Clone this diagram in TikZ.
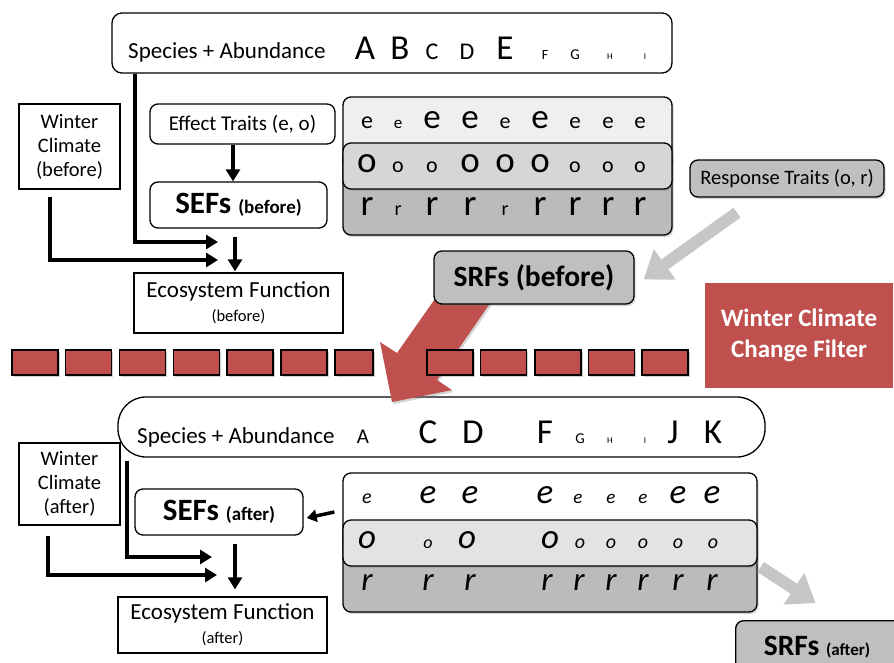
\documentclass[tikz,border=0pt]{standalone}
\usepackage{fontspec}
\setmainfont{Carlito}
\usetikzlibrary{arrows.meta,shadows}
\definecolor{filterred}{HTML}{C0504D}
\definecolor{cE}{HTML}{EFEFEF}
\definecolor{cO}{HTML}{D5D7D7}
\definecolor{cR}{HTML}{BBBBBB}
\definecolor{cOb}{HTML}{E2E4E4}
\definecolor{grayarrow}{HTML}{C6C6C6}
\definecolor{respbox}{HTML}{BFBFBF}
\newcommand{\fs}[2]{\fontsize{#1}{#2}\selectfont}
\begin{document}
\begin{tikzpicture}[x=1pt,y=-1pt,
  sqbox/.style={draw, line width=1.3pt, fill=white, inner sep=0pt, align=center},
  rdbox/.style={sqbox, rounded corners=8pt},
  shad/.style={drop shadow={shadow xshift=1.5pt, shadow yshift=-2pt, opacity=0.35}},
  lett/.style={anchor=base, inner sep=0pt},
  conn/.style={line width=4.2pt, -{Triangle[length=12pt,width=14pt]}},
  fat/.style={line width=12pt, grayarrow, -{Triangle[length=26pt,width=36pt]}},
  dashbox/.style={draw, line width=1.3pt, fill=filterred, minimum height=25pt, inner sep=0pt, shad},
]
\useasboundingbox (0,0) rectangle (894,662);

% ---------------- top half ----------------
\node[rdbox, rounded corners=10pt, minimum width=560pt, minimum height=60pt] (sp1) at (392,43) {};
\node[inner sep=0pt, anchor=base west, font=\fs{23}{23}] (sp1lab) at (128,58) {Species + Abundance};
\foreach \l/\x/\s [count=\i] in {A/365/35, B/400/35, C/432/24, D/467/24, E/505/35, F/545/14, G/575/15, H/610/9, I/645/9}
  \node[lett, font=\fs{\s}{\s}] (spa\i) at (\x,59) {\l};

\node[sqbox, minimum width=101pt, minimum height=85pt, font=\fs{20.5}{24}] (wc1) at (69.5,146.5) {Winter\\Climate\\(before)};
\node[rdbox, minimum width=185pt, minimum height=40pt, font=\fs{21}{24}] (et) at (242.5,124) {Effect Traits (e, o)};
\node[rdbox, minimum width=177pt, minimum height=46pt] (sefb) at (238.5,205) {\bfseries\fs{31}{31}SEFs \fs{19}{19}(before)};
\node[sqbox, minimum width=209pt, minimum height=60pt, font=\fs{23}{24}] (ef1) at (238.5,303) {Ecosystem Function\\[0pt]{\fs{16.5}{16.5}(before)}};

\draw[conn] ([xshift=-9.5pt]et.south) -- ([xshift=-5.5pt]sefb.north);
\coordinate (a1) at (218,242);
\coordinate (a2) at (218,260);
\draw[conn] ([xshift=-257pt]sp1.south) |- (a1);
\draw[conn] ([xshift=-19.5pt,yshift=-7pt]wc1.south) |- (a2);
\draw[conn] ([xshift=-3.5pt,yshift=-8pt]sefb.south) -- ([xshift=-3.5pt,yshift=1pt]ef1.north);

% trait table (before)
\node[rdbox, shad, fill=cE, minimum width=329pt, minimum height=73pt] (tbe) at (507.5,133.5) {};
\node[rdbox, shad, fill=cR, minimum width=329pt, minimum height=85pt] (tbr) at (507.5,192.5) {};
\node[rdbox, shad, fill=cO, minimum width=329pt, minimum height=46pt] (tbo) at (507.5,166) {};
\foreach \x/\s [count=\i] in {367/24, 398/17, 432/35, 470/35, 505/22, 540/35, 575/23, 608/23, 640/23}
  \node[lett, font=\fs{\s}{\s}] (te\i) at (\x,128) {e};
\foreach \x/\s [count=\i] in {367/37, 398/22, 432/22, 470/37, 505/37, 540/37, 575/22, 608/22, 640/22}
  \node[lett, font=\fs{\s}{\s}] (to\i) at (\x,172) {o};
\foreach \x/\s [count=\i] in {367/37, 398/20, 432/37, 470/37, 505/20, 540/37, 575/37, 608/37, 640/37}
  \node[lett, font=\fs{\s}{\s}] (tr\i) at (\x,215) {r};

\node[rdbox, shad, fill=respbox, minimum width=194pt, minimum height=37pt, font=\fs{20.5}{24}] (rt) at (787,178.5) {Response Traits (o, r)};

% ---------------- filter ----------------
\node[rdbox, rounded corners=28pt, minimum width=647pt, minimum height=60pt] (sp2) at (441.5,427) {};
\fill[filterred, shad] (437,296) -- (495,296) -- (437,380) -- (452,390) -- (392,402) -- (380,342) -- (397,353) -- cycle;
\foreach \x/\w [count=\i] in {35/46, 88.5/46, 142.5/46, 196.5/46, 250/46, 304/46, 354/38, 450/46, 503.5/46, 558/46, 611.5/46, 665/46}
  \node[dashbox, minimum width=\w pt] (dash\i) at (\x,362.5) {};

\node[rdbox, shad, fill=respbox, minimum width=200pt, minimum height=53pt, font=\bfseries\fs{29.5}{29.5}] (srfb) at (534,277.5) {SRFs (before)};
\draw[fat] ([xshift=-50pt,yshift=-15pt]rt.south) -- ([xshift=9pt,yshift=-2pt]srfb.east);

\node[fill=filterred, inner sep=0pt, minimum width=188pt, minimum height=105pt, text=white, font=\bfseries\fs{25}{31}, align=center] (filt) at (799,335.5) {Winter Climate\\Change Filter};

% ---------------- bottom half ----------------
\node[inner sep=0pt, anchor=base west, font=\fs{23}{23}] (sp2lab) at (137,443) {Species + Abundance};
\foreach \l/\x/\s [count=\i] in {A/363/21, C/428/35, D/473/35, F/545/35, G/580/15, H/610/9, I/645/9, J/673/35, K/713/35}
  \node[lett, font=\fs{\s}{\s}] (spb\i) at (\x,443) {\l};

\node[sqbox, minimum width=101pt, minimum height=82pt, font=\fs{20.5}{24}] (wc2) at (69.5,484) {Winter\\Climate\\(after)};
\node[rdbox, minimum width=168pt, minimum height=46pt] (sefa) at (219,512) {\bfseries\fs{31}{31}SEFs \fs{19}{19}(after)};
\node[sqbox, minimum width=209pt, minimum height=56pt, font=\fs{23}{24}] (ef2) at (222.5,625) {Ecosystem Function\\[0pt]{\fs{16.5}{16.5}(after)}};

\coordinate (b1) at (212,557);
\coordinate (b2) at (217,575);
\draw[conn] ([xshift=-314.5pt,yshift=-3pt]sp2.south) |- (b1);
\draw[conn] ([xshift=-21.5pt,yshift=-10pt]wc2.south) |- (b2);
\draw[conn] ([xshift=16pt,yshift=-8pt]sefa.south) -- ([xshift=12.5pt,yshift=7pt]ef2.north);

% trait table (after)
\node[rdbox, shad, fill=white, minimum width=414pt, minimum height=72pt] (tbe2) at (550,509) {};
\node[rdbox, shad, fill=cR, minimum width=414pt, minimum height=82pt] (tbr2) at (550,571) {};
\node[rdbox, shad, fill=cOb, minimum width=414pt, minimum height=46pt] (tbo2) at (550,543) {};
\foreach \x/\s [count=\i] in {367/20, 428/35, 470/35, 545/35, 578/19, 611/19, 643/19, 678/35, 712/35}
  \node[lett, font=\itshape\fs{\s}{\s}] (be\i) at (\x,503) {e};
\foreach \x/\s [count=\i] in {367/35, 428/18, 467/35, 550/35, 580/20, 611/20, 643/20, 678/20, 713/20}
  \node[lett, font=\itshape\fs{\s}{\s}] (bo\i) at (\x,548) {o};
\foreach \x [count=\i] in {367, 428, 470, 547, 579, 611, 643, 678, 712}
  \node[lett, font=\itshape\fs{33}{33}] (br\i) at (\x,590) {r};

\draw[line width=3.5pt, -{Triangle[length=10pt,width=12pt]}] ([xshift=-8pt,yshift=-3pt]tbe2.west) -- ([xshift=3pt,yshift=-6pt]sefa.east);

\node[rdbox, shad, fill=respbox, minimum width=170pt, minimum height=60pt, anchor=north west] (srfa) at (735,620) {};
\node[inner sep=0pt, anchor=base, font=\bfseries] (srfatxt) at (817,655) {\fs{29.5}{29.5}SRFs \fs{17}{17}(after)};
\draw[fat] ([xshift=3pt,yshift=4pt]tbr2.east) -- ([xshift=-5pt,yshift=17pt]srfa.north);
\end{tikzpicture}
\end{document}
